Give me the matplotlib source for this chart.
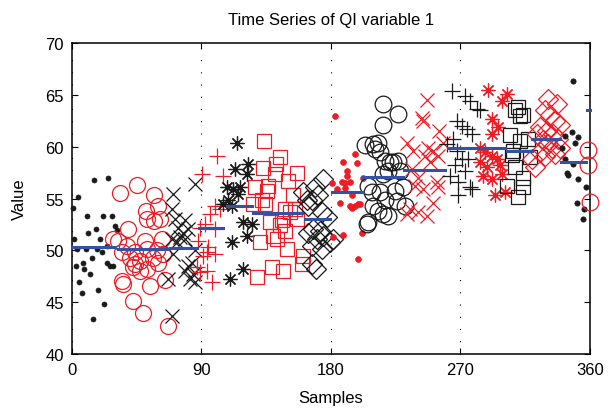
import matplotlib
matplotlib.use('Agg')
import matplotlib.pyplot as plt

# data (sample index, value)
g1_x = [0.5, 1.4, 3.3, 4.4, 2.6, 5.1, 6.7, 7.4, 8.3, 10.2, 11.3, 12.5, 13.7, 14.8, 15.5, 16.7,
        17.6, 18.3, 19.5, 20.6, 21.3, 22.4, 24.1, 25.2, 24.1, 26.4, 27.6, 28.7, 29.9, 31.1, 9.7]
g1_y = [54.1, 51.1, 50.1, 55.1, 48.5, 46.9, 45.9, 48.8, 48.2, 53.3, 51.7, 47.7, 49.3, 43.4, 56.8, 52.1,
        50.1, 46.2, 51.1, 49.8, 53.3, 44.8, 50.4, 57.0, 48.8, 48.5, 53.3, 48.5, 52.3, 52.0, 50.1]

g2_x = [33.4, 45.4, 57.2, 60.0, 51.4, 52.3, 57.0, 61.2, 39.1, 32.2, 50.7, 62.3, 38.0, 34.5, 43.8, 51.9,
        58.9, 63.4, 40.3, 47.3, 56.5, 43.8, 42.6, 47.3, 60.0, 51.9, 64.6, 35.6, 35.0, 54.2, 42.6, 49.5,
        66.5, 28.7]
g2_y = [55.5, 56.3, 55.3, 54.3, 53.8, 53.0, 52.8, 53.0, 52.1, 50.9, 50.9, 51.1, 50.4, 49.8, 49.8, 50.1,
        50.0, 49.6, 49.3, 49.0, 49.3, 48.7, 48.4, 48.0, 48.8, 48.2, 47.1, 46.8, 47.0, 46.6, 45.1, 44.0,
        42.7, 51.1]

g3_x = [70.4, 85.5, 69.3, 71.6, 78.5, 73.9, 77.3, 75.1, 69.3, 72.8, 80.8, 78.5, 70.4, 83.2, 80.8, 78.5,
        84.3, 82.0, 85.5, 66.9, 69.3, 85.5]
g3_y = [55.4, 56.4, 54.0, 53.0, 52.9, 52.2, 51.7, 51.3, 51.1, 50.8, 52.1, 51.1, 49.6, 48.8, 48.5, 48.0,
        47.7, 47.2, 46.9, 47.2, 43.7, 50.0]

g4_x = [100.6, 90.1, 105.1, 99.4, 102.8, 95.9, 92.4, 99.4, 89.0, 87.8, 94.7, 99.4, 91.2, 93.6, 89.0,
        97.1, 86.7, 93.6]
g4_y = [59.1, 57.4, 57.2, 54.3, 54.0, 53.5, 52.5, 52.1, 52.2, 50.9, 50.3, 49.6, 49.5, 48.0, 47.9,
        46.9, 48.4, 49.8]

g5_x = [114.5, 113.3, 122.5, 121.4, 107.5, 112.1, 116.7, 115.6, 108.6, 105.1, 111.0, 119.0, 124.9,
        121.4, 111.0, 119.0, 109.8]
g5_y = [60.4, 57.8, 58.3, 57.4, 56.1, 55.9, 56.1, 55.4, 54.9, 54.5, 54.3, 52.7, 52.5,
        51.4, 50.8, 48.2, 47.2]

g6_x = [133.4, 144.5, 141.8, 132.5, 156.6, 141.1, 150.3, 127.2, 136.0, 135.3, 153.8, 131.8, 126.0,
        134.1, 148.0, 151.5, 155.0, 137.6, 145.7, 144.5, 156.1, 148.0, 139.9, 130.6, 142.2, 149.2,
        160.7, 159.6, 138.8, 146.8, 128.4]
g6_y = [60.5, 59.0, 58.3, 57.9, 57.5, 57.4, 56.7, 56.1, 56.2, 55.7, 55.3, 54.9, 54.5,
        54.5, 54.0, 53.7, 54.0, 52.7, 52.9, 52.4, 53.0, 51.9, 51.4, 50.8, 51.1, 50.1,
        49.5, 48.7, 48.4, 48.0, 47.4]

g7_x = [174.6, 168.9, 160.7, 163.1, 166.6, 171.2, 164.2, 173.5, 177.0, 167.7, 172.3, 174.6, 164.2,
        170.0, 179.3, 166.6, 173.5, 181.6, 166.6, 169.6]
g7_y = [56.9, 56.1, 55.6, 54.9, 54.9, 55.3, 54.3, 53.7, 53.2, 52.1, 51.9, 51.4, 51.7,
        51.1, 50.8, 50.4, 50.1, 51.1, 48.7, 48.2]

g8_x = [182.8, 188.1, 191.3, 183.9, 187.4, 181.6, 188.5, 186.2, 193.2, 196.7, 197.8, 190.9, 189.7,
        202.4, 193.2, 194.4, 196.7, 200.1, 194.4, 201.3, 199.0, 180.5, 199.0, 189.7]
g8_y = [63.0, 58.5, 57.7, 55.9, 56.6, 51.3, 51.5, 54.6, 54.3, 59.3, 58.4, 57.2, 56.0,
        57.0, 56.6, 55.3, 54.3, 54.5, 54.1, 51.7, 49.2, 56.5, 54.5, 56.5]

g9_x = [216.3, 226.8, 215.9, 203.6, 209.4, 212.9, 210.6, 214.0, 217.5, 221.0, 223.3, 226.8, 219.8,
        216.3, 227.9, 205.9, 208.3, 224.5, 230.2, 214.0, 217.5, 225.6, 209.4, 212.9, 219.8, 216.3,
        231.4, 205.9, 204.8]
g9_y = [64.1, 63.2, 62.1, 60.2, 60.3, 60.4, 59.8, 59.5, 58.6, 58.5, 58.5, 58.6, 57.7,
        57.4, 57.7, 56.2, 55.6, 55.7, 56.1, 55.6, 54.9, 54.8, 54.3, 53.8, 53.3, 53.5,
        54.3, 52.7, 52.5]

g10_x = [246.9, 243.0, 244.1, 255.2, 232.6, 237.2, 247.6, 251.1, 254.6, 245.3, 248.8, 258.0, 236.1,
         240.7, 238.4, 244.1, 253.4, 254.6, 251.1, 234.9, 232.6, 240.7, 246.5]
g10_y = [64.5, 62.8, 62.5, 61.5, 60.4, 59.6, 59.9, 59.6, 59.1, 59.1, 58.5, 60.4, 57.8,
         57.0, 56.2, 55.9, 56.6, 56.1, 54.6, 54.0, 53.5, 53.7, 53.3]

g11_x = [263.9, 273.1, 276.6, 281.2, 283.5, 267.3, 270.8, 274.3, 277.8, 265.0, 260.4, 267.3, 270.8,
         266.2, 273.1, 262.7, 268.5, 276.6, 268.5, 277.8, 275.4]
g11_y = [65.4, 64.9, 64.4, 63.6, 63.5, 62.5, 62.0, 61.7, 61.2, 60.7, 60.3, 59.6, 58.8,
         58.2, 57.7, 57.2, 56.6, 56.1, 55.3, 55.9, 58.8]

g12_x = [289.3, 302.1, 298.6, 291.7, 296.2, 291.7, 283.5, 287.0, 291.7, 295.1, 283.5, 288.2, 297.4,
         285.8, 291.7, 298.6, 294.0, 300.9]
g12_y = [65.5, 65.1, 64.4, 62.7, 61.9, 61.2, 59.9, 59.5, 59.1, 58.8, 58.5, 58.0, 58.2,
         57.2, 56.9, 57.4, 55.3, 55.6]

g13_x = [310.1, 307.9, 313.6, 311.3, 304.4, 317.1, 306.7, 318.3, 307.9, 313.6, 302.1, 313.6, 310.1,
         305.8, 311.3]
g13_y = [63.8, 63.5, 63.1, 63.0, 61.1, 60.7, 59.6, 59.0, 58.0, 57.0, 56.2, 56.1, 55.1,
         59.2, 60.5]

g14_x = [331.0, 336.8, 328.7, 332.2, 335.7, 339.1, 325.2, 322.9, 329.9, 334.5, 327.5, 331.0, 338.0,
         333.4, 325.2, 339.1, 319.5, 321.8, 328.7, 335.7]
g14_y = [64.6, 64.1, 63.5, 63.1, 62.5, 62.1, 61.9, 61.2, 61.5, 61.2, 60.6, 60.3, 60.7,
         59.9, 59.5, 59.9, 58.8, 58.0, 59.1, 59.3]

g15_x = [347.9, 347.3, 342.6, 351.8, 340.3, 349.5, 342.6, 348.4, 343.8, 344.9, 351.8, 357.2, 350.7,
         355.8, 354.9]
g15_y = [66.3, 61.4, 61.0, 60.9, 59.9, 60.4, 58.8, 58.3, 57.5, 57.3, 56.9, 56.1, 54.6,
         54.0, 53.0]

g16_x = [358.4, 358.8, 360.0]
g16_y = [59.7, 58.2, 54.7]

# group means (blue segments)
seg_start = [0, 32, 68, 88, 108, 126, 162, 181, 202, 231, 261, 285, 302, 320, 340, 358]
seg_end = [30, 67, 87, 105, 125, 160, 179, 202, 230, 259, 284, 301, 320, 339, 357, 360]
seg_mean = [50.3, 50.1, 50.2, 52.15, 54.3, 53.65, 53.0, 55.65, 57.1, 57.75, 59.87, 59.9, 59.6, 60.7, 58.55, 63.5]

xticks = [0, 90, 180, 270, 360]
yticks = [40, 45, 50, 55, 60, 65, 70]

plt.rcParams['font.family'] = ['Liberation Sans', 'DejaVu Sans']

BLK = '#1a1a1a'
RED = '#ee1c24'
STAR = (8, 2, 0)

groups = [
    (g1_x, g1_y, 'o', BLK, 3.6, True),
    (g2_x, g2_y, 'o', RED, 11.5, False),
    (g3_x, g3_y, 'x', BLK, 9.5, False),
    (g4_x, g4_y, '+', RED, 11, False),
    (g5_x, g5_y, STAR, BLK, 10, False),
    (g6_x, g6_y, 's', RED, 10, False),
    (g7_x, g7_y, 'D', BLK, 10, False),
    (g8_x, g8_y, 'o', RED, 4.2, True),
    (g9_x, g9_y, 'o', BLK, 12, False),
    (g10_x, g10_y, 'x', RED, 10, False),
    (g11_x, g11_y, '+', BLK, 11, False),
    (g12_x, g12_y, STAR, RED, 10, False),
    (g13_x, g13_y, 's', BLK, 10, False),
    (g14_x, g14_y, 'D', RED, 10, False),
    (g15_x, g15_y, 'o', BLK, 3.8, True),
    (g16_x, g16_y, 'o', RED, 12, False),
]

fig = plt.figure(figsize=(6.08, 4.14), dpi=100)
ax = fig.add_axes([0.1184, 0.1425, 0.852, 0.7512])

for gx, gy, mk, col, ms, filled in groups:
    ax.plot(gx, gy, linestyle='none', marker=mk, markersize=ms,
            markerfacecolor=col if filled else 'none', markeredgecolor=col,
            markeredgewidth=0.9 if not filled else 0.5, clip_on=False, zorder=3)

for s, e, m in zip(seg_start, seg_end, seg_mean):
    ax.plot([s, e], [m, m], color='#3452a4', linewidth=2.2, zorder=4, clip_on=False)

ax.set_xlim(0, 360)
ax.set_ylim(40, 70)
ax.set_xticks(xticks)
ax.set_yticks(yticks)
ax.tick_params(direction='in', top=True, right=True, length=4, width=0.8,
               labelsize=12, pad=6)
ax.grid(axis='x', color='k', linewidth=0.8, linestyle=(0, (1, 10)))
for sp in ax.spines.values():
    sp.set_linewidth(1.1)

ax.set_title('Time Series of QI variable 1', fontsize=12, pad=14)
ax.set_xlabel('Samples', fontsize=12, labelpad=9)
ax.set_ylabel('Value', fontsize=12, labelpad=13)

fig.savefig('out.png', dpi=100)
